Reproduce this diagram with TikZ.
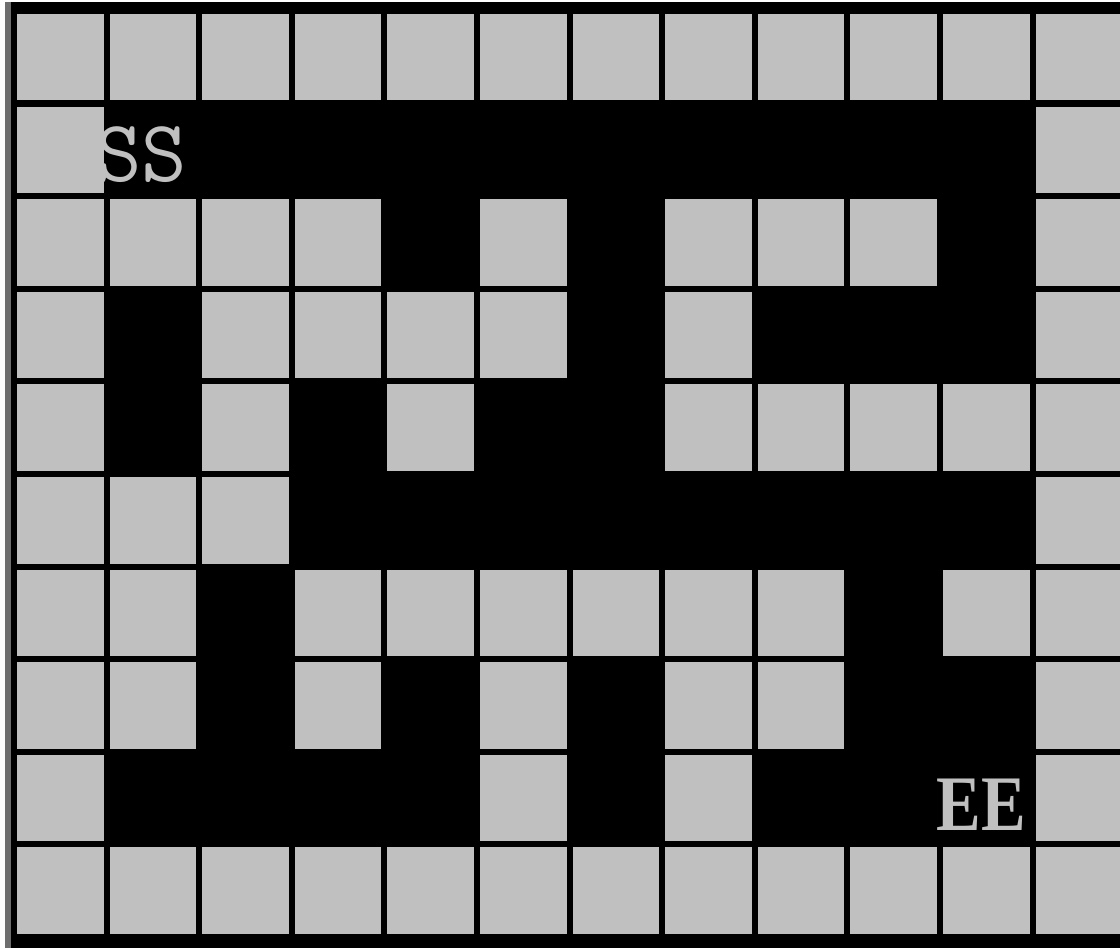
\documentclass[tikz,border=0pt]{standalone}
\usepackage{fontspec}
\newfontfamily\goalfont{Liberation Serif}
\definecolor{wallgray}{HTML}{C0C0C0}
\definecolor{edgegray}{HTML}{6E6E6E}
\begin{document}
\begin{tikzpicture}[x=0.75pt,y=-0.75pt]
\useasboundingbox (0,0) rectangle (1120,948);
\fill[white] (0,0) rectangle (1120,948);
\fill[edgegray] (5,2) rectangle (11,948);
\fill[black] (11,2) rectangle (1120,948);
% walls, row by row
\foreach \r/\cols in {0/{0,...,11}, 1/{0,11}, 2/{0,1,2,3,5,7,8,9,11},
    3/{0,2,3,4,5,7,11}, 4/{0,2,4,7,8,9,10,11}, 5/{0,1,2,11},
    6/{0,1,3,4,5,6,7,8,10,11}, 7/{0,1,3,5,7,8,11}, 8/{0,5,7,11}, 9/{0,...,11}}
  \foreach \c in \cols
    \fill[wallgray] ({17+92.6*\c},{14+92.6*\r}) rectangle +(86.5,86.5);
\node[anchor=base west, inner sep=0pt, text=wallgray,
  font=\ttfamily\fontsize{66}{66}\selectfont] (start) at (96,182) {SS};
\node[anchor=base east, inner sep=0pt, text=wallgray,
  font=\goalfont\bfseries\fontsize{59}{59}\selectfont] (goal) at (1026,830) {\scalebox{0.85}[1]{EE}};
\end{tikzpicture}
\end{document}
